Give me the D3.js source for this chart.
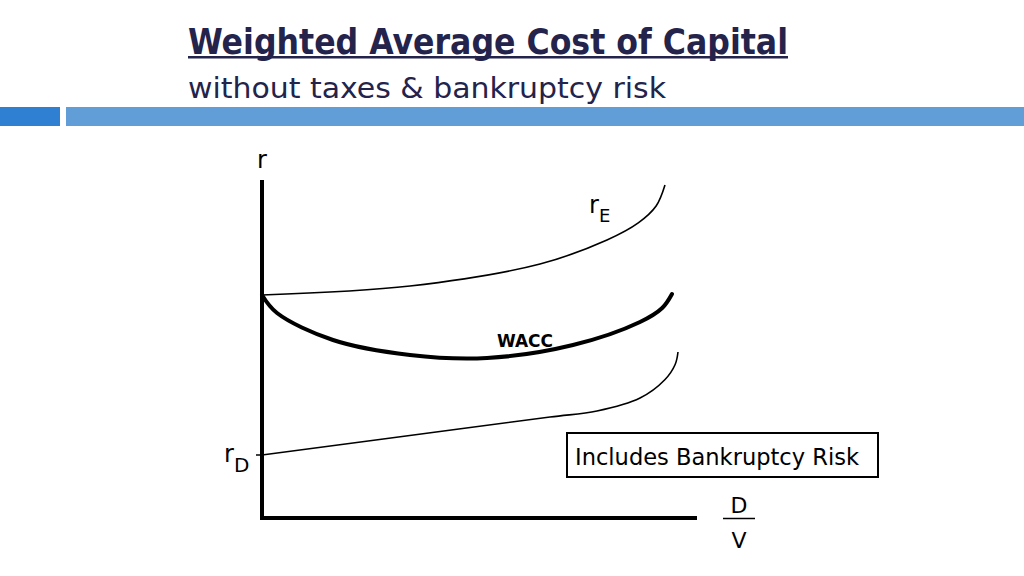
<!DOCTYPE html>
<html><head><meta charset="utf-8">
<script src="https://cdn.jsdelivr.net/npm/d3@7"></script>
<style>html,body{margin:0;padding:0;background:#fff;}svg{display:block;}</style>
</head><body>
<svg id="c" width="1024" height="576"></svg>
<script>
// D/V (0-100) and rate (0-100) readings
const rE_x = [0, 34.02, 63.91, 79.31, 86.5, 90.6, 92.64];
const rE_y = [65.98, 68.64, 75.15, 82.25, 87.3, 92.3, 98.52];
const wacc_x = [0, 3.45, 16.32, 34.02, 51.72, 71.49, 86.90, 92.0, 94.25];
const wacc_y = [65.98, 60.65, 52.66, 48.22, 47.34, 51.18, 57.99, 62.13, 66.27];
const rD_x = [0, 33.10, 66.21, 77.01, 86.90, 92.6, 95.0, 95.63];
const rD_y = [18.64, 24.26, 29.88, 31.66, 35.50, 40.9, 45.5, 49.11];
const titleText = "Weighted Average Cost of Capital";
const subtitleText = "without taxes & bankruptcy risk";
const boxText = "Includes Bankruptcy Risk";

const svg = d3.select("#c");
const x = d3.scaleLinear().domain([0, 100]).range([262, 697]);
const y = d3.scaleLinear().domain([0, 100]).range([518, 180]);

// header
const navy = "#23234b";
const cond = "'DejaVu Sans Condensed','Liberation Sans Narrow',sans-serif";
svg.append("text").attr("x", 188).attr("y", 54)
  .attr("font-family", cond)
  .attr("font-weight", "bold").attr("font-size", 36).attr("fill", navy)
  .attr("textLength", 600).attr("lengthAdjust", "spacingAndGlyphs").text(titleText);
svg.append("rect").attr("x", 188).attr("y", 56).attr("width", 600).attr("height", 2.5).attr("fill", navy);
svg.append("text").attr("x", 188).attr("y", 98)
  .attr("font-family", cond)
  .attr("font-size", 29).attr("fill", navy)
  .attr("textLength", 478).attr("lengthAdjust", "spacingAndGlyphs").text(subtitleText);
svg.append("rect").attr("x", 0).attr("y", 107).attr("width", 60).attr("height", 19).attr("fill", "#2f7fd2");
svg.append("rect").attr("x", 66).attr("y", 107).attr("width", 958).attr("height", 19).attr("fill", "#619dd6");

// axes
svg.append("line").attr("x1", x(0)).attr("x2", x(0)).attr("y1", y(100)).attr("y2", y(0))
  .attr("stroke", "#000").attr("stroke-width", 4);
svg.append("line").attr("x1", x(0) - 2).attr("x2", x(100)).attr("y1", y(0)).attr("y2", y(0))
  .attr("stroke", "#000").attr("stroke-width", 4);
// rD tick
svg.append("line").attr("x1", x(0) - 6).attr("x2", x(0)).attr("y1", y(rD_y[0])).attr("y2", y(rD_y[0]))
  .attr("stroke", "#000").attr("stroke-width", 1.5);

const line = d3.line().x(d => x(d[0])).y(d => y(d[1])).curve(d3.curveCatmullRom.alpha(0.5));
svg.append("path").attr("d", line(d3.zip(rE_x, rE_y))).attr("fill", "none").attr("stroke", "#000").attr("stroke-width", 1.6);
svg.append("path").attr("d", line(d3.zip(wacc_x, wacc_y))).attr("fill", "none").attr("stroke", "#000").attr("stroke-width", 4).attr("stroke-linecap", "round");
svg.append("path").attr("d", line(d3.zip(rD_x, rD_y))).attr("fill", "none").attr("stroke", "#000").attr("stroke-width", 1.6);

// labels
const lf = "'DejaVu Sans',sans-serif";
svg.append("text").attr("x", 257).attr("y", 168).attr("font-family", lf).attr("font-size", 24).text("r");
const rE = svg.append("text").attr("x", 589).attr("y", 213).attr("font-family", lf).attr("font-size", 24);
rE.append("tspan").text("r");
rE.append("tspan").attr("dy", 9).attr("font-size", 18).text("E");
const rD = svg.append("text").attr("x", 224).attr("y", 462).attr("font-family", lf).attr("font-size", 24);
rD.append("tspan").text("r");
rD.append("tspan").attr("dy", 10).attr("font-size", 20).text("D");
svg.append("text").attr("x", 525).attr("y", 347).attr("text-anchor", "middle")
  .attr("font-family", lf).attr("font-weight", "bold").attr("font-size", 17).text("WACC");

// D/V
svg.append("text").attr("x", 739).attr("y", 513).attr("text-anchor", "middle").attr("font-family", lf).attr("font-size", 22).text("D");
svg.append("line").attr("x1", 723).attr("x2", 755).attr("y1", 518.5).attr("y2", 518.5).attr("stroke", "#000").attr("stroke-width", 1.5);
svg.append("text").attr("x", 739).attr("y", 548).attr("text-anchor", "middle").attr("font-family", lf).attr("font-size", 22).text("V");

// box
svg.append("rect").attr("x", 567).attr("y", 433).attr("width", 311).attr("height", 44)
  .attr("fill", "#fff").attr("stroke", "#000").attr("stroke-width", 2);
svg.append("text").attr("x", 575).attr("y", 465)
  .attr("font-family", cond).attr("font-size", 23)
  .attr("textLength", 284).attr("lengthAdjust", "spacingAndGlyphs").text(boxText);
</script>
</body></html>
